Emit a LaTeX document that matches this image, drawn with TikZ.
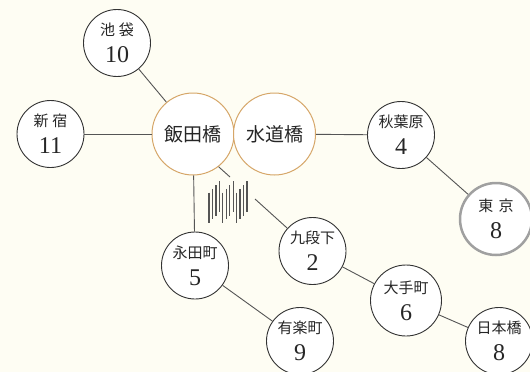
\documentclass[tikz,border=0pt]{standalone}
\usepackage{fontspec}
\newfontfamily\cjk{Noto Sans CJK JP}
\newfontfamily\numfont{Liberation Serif}
\definecolor{paper}{RGB}{254,253,243}
\definecolor{linkgray}{RGB}{85,85,85}
\definecolor{hubring}{RGB}{214,166,104}
\definecolor{tokyoring}{RGB}{160,160,160}

\newcommand{\stn}[2]{{\cjk #1}\\{\numfont\fontsize{24}{24}\selectfont #2}}

\begin{document}
\begin{tikzpicture}[x=1pt,y=-1pt,
  station/.style={circle,draw=black!80,fill=white,line width=0.9pt,minimum size=67pt,
    inner sep=0pt,align=center,font=\fontsize{15}{27}\selectfont,text=black!85,yshift=-1pt},
  hub/.style={circle,draw=hubring,fill=white,line width=1pt,minimum size=82pt,
    inner sep=0pt,font=\cjk\fontsize{19}{19}\selectfont,text=black!85},
  link/.style={draw=linkgray,line width=0.9pt},
  barline/.style={draw=linkgray,line width=1.3pt}]
   \fill[paper] (0,0) rectangle (530,372);
   \useasboundingbox (0,0) rectangle (530,372);

   \node[hub] (iidabashi) at (193,134) {飯田橋};
   \node[hub] (suidobashi) at (274.5,134) {水道橋};

   \node[station] (ikebukuro) at (117,42) {\stn{池\hspace{0.25em}袋}{10}};
   \node[station] (shinjuku) at (50.5,133) {\stn{新\hspace{0.25em}宿}{11}};
   \node[station] (akihabara) at (401,134) {\stn{秋葉原}{4}};
   \node[station,draw=tokyoring,line width=2.5pt,minimum size=72pt] (tokyo) at (496,218) {\stn{東\hspace{0.35em}京}{8}};
   \node[station] (nagatacho) at (195,264.5) {\stn{永田町}{5}};
   \node[station] (kudanshita) at (312.5,250) {\stn{九段下}{2}};
   \node[station] (yurakucho) at (300,340) {\stn{有楽町}{9}};
   \node[station,minimum size=71pt] (otemachi) at (406,299.5) {\stn{大手町}{6}};
   \node[station] (nihombashi) at (499,340) {\stn{日本橋}{8}};

   \coordinate (breakA) at (230,177);
   \coordinate (breakB) at (255,199);

   \draw[link] (ikebukuro) -- (iidabashi);
   \draw[link] (shinjuku) -- (iidabashi);
   \draw[link] (suidobashi) -- (akihabara);
   \draw[link] (akihabara) -- (tokyo);
   \draw[link] (iidabashi) -- (nagatacho);
   \draw[link] (iidabashi.-52) -- (breakA);
   \draw[link] (breakB) -- (kudanshita);
   \draw[link] (nagatacho) -- (yurakucho);
   \draw[link] (kudanshita) -- (otemachi);
   \draw[link] (otemachi) -- (nihombashi);

   \foreach \i in {0,...,11} {
     \pgfmathsetmacro\k{mod(\i,4)}
     \draw[barline] ({209+3.45*\i},{192.7-3.8*\k}) -- ++(0,30.5);
   }
\end{tikzpicture}
\end{document}
